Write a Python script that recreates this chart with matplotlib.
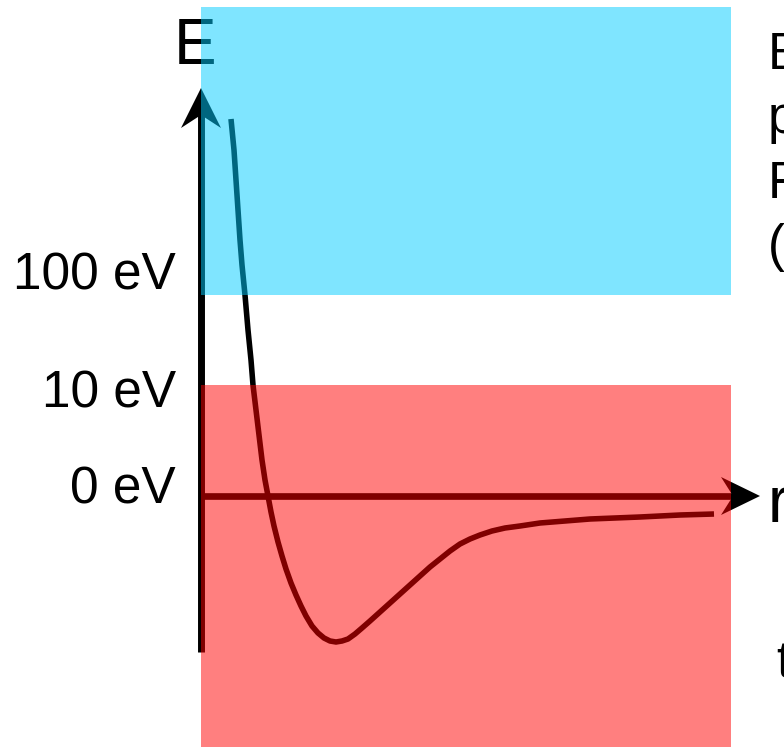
import matplotlib.pyplot as plt
from matplotlib.patches import Rectangle, Polygon

plt.rcParams['font.family'] = ['Liberation Sans', 'DejaVu Sans']

# Potential curve in diagram units (origin where the two axes cross)
r_curve = [0.30, 0.33, 0.35, 0.37, 0.39, 0.41, 0.44, 0.47, 0.50, 0.52,
           0.55, 0.58, 0.61, 0.64, 0.67, 0.70, 0.73, 0.77, 0.81, 0.85,
           0.90, 0.95, 1.00, 1.05, 1.11, 1.17, 1.23, 1.29, 1.35, 1.41,
           1.47, 1.54, 1.61, 1.69, 1.79, 1.89, 1.99, 2.09, 2.19, 2.29,
           2.39, 2.49, 2.59, 2.69, 2.79, 2.91, 3.04, 3.19, 3.39, 3.64,
           3.89, 4.14, 4.39, 4.79, 5.13]
e_curve = [3.77, 3.46, 3.16, 2.86, 2.56, 2.31, 2.01, 1.66, 1.36, 1.11,
           0.86, 0.61, 0.36, 0.16, 0.00, -0.16, -0.30, -0.46, -0.60, -0.73,
           -0.87, -0.99, -1.10, -1.20, -1.30, -1.37, -1.42, -1.45, -1.46, -1.45,
           -1.43, -1.38, -1.32, -1.25, -1.16, -1.07, -0.98, -0.89, -0.80, -0.71,
           -0.63, -0.55, -0.48, -0.43, -0.39, -0.35, -0.32, -0.30, -0.27, -0.25,
           -0.23, -0.22, -0.21, -0.19, -0.18]

# Energy levels on the vertical axis
tick_levels = [0.11, 1.07, 2.26]
tick_labels = ['0 eV', '10 eV', '100 eV']

# Shaded energy bands (r range, E range)
band_r = (0.0, 5.30)
high_band = (2.01, 4.89)
low_band = (-2.51, 1.11)

side_lines = ['Energy per', 'particle', 'From', '(eV)']


def arrow_head(ax, tip, direction, length=0.40, half_width=0.20, notch=0.27):
    # concave arrow head drawn as a polygon in data units
    dx, dy = direction
    px, py = -dy, dx
    tx, ty = tip
    bx, by = tx - dx * length, ty - dy * length
    pts = [(tx, ty),
           (bx + px * half_width, by + py * half_width),
           (tx - dx * notch, ty - dy * notch),
           (bx - px * half_width, by - py * half_width)]
    ax.add_patch(Polygon(pts, closed=True, color='black', lw=0, zorder=2))


fig = plt.figure(figsize=(7.84, 7.47), dpi=100)
ax = fig.add_axes([0, 0, 1, 1])
ax.set_xlim(-2.01, 5.83)
ax.set_ylim(-2.51, 4.96)
ax.axis('off')

# axes
ax.plot([0, 0], [-1.56, 3.85], color='black', lw=5, solid_capstyle='butt', zorder=1)
arrow_head(ax, (0, 4.08), (0, 1))
ax.plot([0, 5.35], [0, 0], color='black', lw=4.8, solid_capstyle='butt', zorder=1)
arrow_head(ax, (5.59, 0), (1, 0), length=0.39, half_width=0.19)

# potential curve
ax.plot(r_curve, e_curve, color='black', lw=4, solid_capstyle='butt',
        solid_joinstyle='round', zorder=1)

# labels
ax.text(-0.27, 4.32, 'E', fontsize=46, ha='left', va='baseline', zorder=1)
ax.text(5.67, -0.26, 'r', fontsize=46, ha='left', va='baseline', zorder=1)
for lvl, lab in zip(tick_levels, tick_labels):
    ax.text(-0.25, lvl, lab, fontsize=37, ha='right', va='center_baseline', zorder=1)
for i, line in enumerate(side_lines):
    ax.text(5.67, 4.27 - 0.64 * i, line, fontsize=37, ha='left', va='baseline', zorder=1)
ax.text(5.75, -1.81, 'typical', fontsize=37, ha='left', va='baseline', zorder=1)

# translucent energy bands on top
ax.add_patch(Rectangle((band_r[0], high_band[0]), band_r[1] - band_r[0],
                       high_band[1] - high_band[0], color='#00CCFF', alpha=0.5,
                       lw=0, zorder=3))
ax.add_patch(Rectangle((band_r[0], low_band[0]), band_r[1] - band_r[0],
                       low_band[1] - low_band[0], color='#FF0000', alpha=0.5,
                       lw=0, zorder=3))

fig.savefig('out.png', dpi=100)
